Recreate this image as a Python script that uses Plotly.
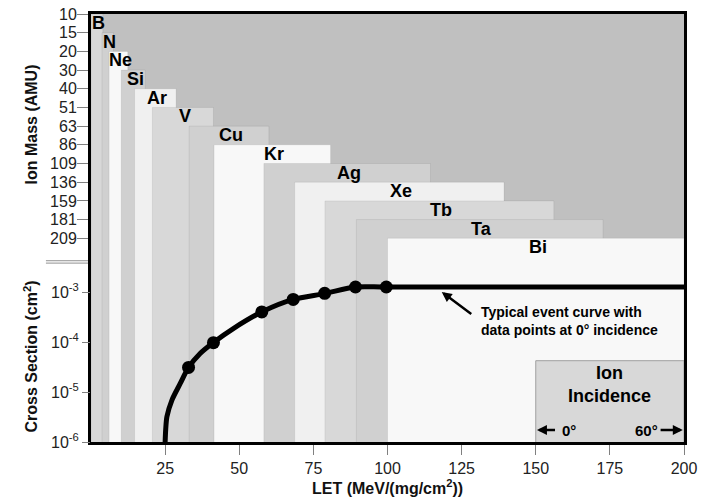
import math
import plotly.graph_objects as go

# ---------------- data ----------------
ion_names = ["B", "N", "Ne", "Si", "Ar", "V", "Cu", "Kr", "Ag", "Xe", "Tb", "Ta", "Bi"]
ion_mass = [10, 15, 20, 30, 40, 51, 63, 86, 109, 136, 159, 181, 209]
let_0deg = [0.0, 3.7, 6.1, 10.2, 14.7, 20.7, 33.1, 41.5, 58.3, 68.7, 78.9, 89.5, 100.0]
let_60deg = [4.0, 7.6, 12.4, 18.3, 28.7, 41.3, 60.0, 80.8, 114.5, 139.3, 156.1, 172.7, 200.0]

curve_let = [25.0, 25.2, 25.6, 27.3, 30.1, 32.9, 36.8, 41.3, 48.0, 57.9, 68.2, 78.8, 89.2, 99.6, 200.0]
curve_xs = [1.0e-6, 1.8e-6, 3.2e-6, 6.9e-6, 1.48e-5, 3.1e-5, 5.9e-5, 9.8e-5, 1.86e-4,
            4.07e-4, 7.1e-4, 9.3e-4, 1.26e-3, 1.26e-3, 1.26e-3]

point_let = [32.9, 41.3, 57.6, 68.2, 78.8, 89.2, 99.6]
point_xs = [3.1e-5, 9.7e-5, 4.0e-4, 7.1e-4, 9.4e-4, 1.26e-3, 1.26e-3]

let_ticks = [25, 50, 75, 100, 125, 150, 175, 200]
xs_ticks = [1e-6, 1e-5, 1e-4, 1e-3]
xs_ticktext = ["10<sup>-6</sup>", "10<sup>-5</sup>", "10<sup>-4</sup>", "10<sup>-3</sup>"]

# ---------------- style ----------------
ion_colors = ["#d8d8d8", "#d0d0d0", "#f8f8f8", "#d0d0d0", "#f0f0f0", "#d8d8d8", "#d0d0d0",
              "#f8f8f8", "#d0d0d0", "#f0f0f0", "#d8d8d8", "#d0d0d0", "#f8f8f8"]
FONT = "Arial, Liberation Sans, sans-serif"
MASS_BOTTOM = 22.9      # mass-index axis bottom (reversed axis)
LOG_TOP = 2.56          # log axis top (log10)
TICKCOL = "#808080"

fig = go.Figure()

# ion rectangles (drawn in order, heavier ions on top)
for i, (name, l0, l1, col) in enumerate(zip(ion_names, let_0deg, let_60deg, ion_colors)):
    fig.add_trace(go.Scatter(
        x=[l0, l1, l1, l0, l0],
        y=[i, i, MASS_BOTTOM + 1, MASS_BOTTOM + 1, i],
        mode="lines", fill="toself", fillcolor=col,
        line=dict(color="rgba(0,0,0,0.07)", width=1),
        hoverinfo="skip", showlegend=False, xaxis="x", yaxis="y"))

# event curve
fig.add_trace(go.Scatter(
    x=curve_let, y=curve_xs, mode="lines",
    line=dict(color="black", width=5, shape="spline", smoothing=0.8),
    showlegend=False, xaxis="x", yaxis="y2", hoverinfo="skip"))
fig.add_trace(go.Scatter(
    x=point_let, y=point_xs, mode="markers",
    marker=dict(color="black", size=13),
    showlegend=False, xaxis="x", yaxis="y2", hoverinfo="skip"))

annotations = []
# ion labels
for i, (name, l0, l1) in enumerate(zip(ion_names, let_0deg, let_60deg)):
    annotations.append(dict(
        x=(l0 + l1) / 2, y=i, xref="x", yref="y", text="<b>%s</b>" % name,
        showarrow=False, xanchor="center", yanchor="top", yshift=3, xshift=2,
        font=dict(family=FONT, size=18, color="black")))

# arrow + description
annotations.append(dict(
    x=118.3, y=-3.0, xref="x", yref="y2", text="", showarrow=True,
    ax=31, ay=23, arrowhead=2, arrowsize=0.8, arrowwidth=2.5, arrowcolor="black"))
annotations.append(dict(
    x=130.9, y=-3.2, xref="x", yref="y2",
    text="<b>Typical event curve with<br>data points at 0° incidence</b>",
    showarrow=False, xanchor="left", yanchor="top", align="left",
    font=dict(family=FONT, size=14, color="black")))

# Ion incidence box text
annotations.append(dict(
    x=175, y=19.8, xref="x", yref="y", text="<b>Ion<br>Incidence</b>",
    showarrow=False, xanchor="center", yanchor="middle", align="center",
    font=dict(family=FONT, size=18, color="black")))
annotations.append(dict(
    x=161.2, y=22.26, xref="x", yref="y", text="<b>0°</b>", showarrow=False,
    font=dict(family=FONT, size=15, color="black")))
annotations.append(dict(
    x=187.2, y=22.26, xref="x", yref="y", text="<b>60°</b>", showarrow=False,
    font=dict(family=FONT, size=15, color="black")))
annotations.append(dict(
    x=150.4, y=22.26, xref="x", yref="y", ax=157.0, ay=22.26, axref="x", ayref="y",
    text="", showarrow=True, arrowhead=2, arrowsize=0.8, arrowwidth=2.5, arrowcolor="black"))
annotations.append(dict(
    x=199.6, y=22.26, xref="x", yref="y", ax=191.6, ay=22.26, axref="x", ayref="y",
    text="", showarrow=True, arrowhead=2, arrowsize=0.8, arrowwidth=2.5, arrowcolor="black"))

# axis titles
annotations.append(dict(
    x=-0.101, y=0.742, xref="paper", yref="paper", text="<b>Ion Mass (AMU)</b>",
    textangle=-90, showarrow=False, xanchor="center", yanchor="middle",
    font=dict(family=FONT, size=16, color="#111")))
annotations.append(dict(
    x=-0.101, y=0.2, xref="paper", yref="paper", text="<b>Cross Section (cm<sup>2</sup>)</b>",
    textangle=-90, showarrow=False, xanchor="center", yanchor="middle",
    font=dict(family=FONT, size=16, color="#111")))
annotations.append(dict(
    x=0.5, y=-0.105, xref="paper", yref="paper", text="<b>LET (MeV/(mg/cm<sup>2</sup>))</b>",
    showarrow=False, xanchor="center", yanchor="middle",
    font=dict(family=FONT, size=16, color="#111")))

shapes = [
    # ion incidence box
    dict(type="rect", xref="x", yref="y", x0=150, x1=200, y0=18.55, y1=MASS_BOTTOM + 1,
         fillcolor="#d8d8d8", line=dict(color="#a0a0a0", width=1), layer="above"),
    # axis break marks
    dict(type="line", xref="paper", yref="paper", x0=-0.076, x1=-0.005, y0=0.4235, y1=0.4235,
         line=dict(color="#909090", width=1)),
    dict(type="line", xref="paper", yref="paper", x0=-0.076, x1=-0.005, y0=0.418, y1=0.418,
         line=dict(color="#909090", width=1)),
]

fig.update_layout(
    width=708, height=500,
    margin=dict(l=91, r=24, t=14, b=58, autoexpand=False),
    paper_bgcolor="white", plot_bgcolor="#c0c0c0",
    font=dict(family=FONT, size=16, color="#222"),
    showlegend=False,
    annotations=annotations, shapes=shapes,
    xaxis=dict(range=[0, 200], tickvals=let_ticks, ticks="outside", ticklen=10,
               tickcolor=TICKCOL, tickwidth=1, showgrid=False, zeroline=False,
               showline=True, linecolor="black", linewidth=3, mirror=True,
               tickfont=dict(family=FONT, size=16, color="#222")),
    yaxis=dict(range=[MASS_BOTTOM, 0], tickvals=list(range(len(ion_mass))),
               ticktext=[str(m) for m in ion_mass], ticks="outside", ticklen=11,
               ticklabelstandoff=-3,
               tickcolor=TICKCOL, tickwidth=1, showgrid=False, zeroline=False,
               showline=True, linecolor="black", linewidth=3, mirror=True,
               tickfont=dict(family=FONT, size=16, color="#222")),
    yaxis2=dict(type="log", range=[-6, LOG_TOP], overlaying="y", side="left",
                tickvals=xs_ticks, ticktext=xs_ticktext, ticks="outside", ticklen=8,
                tickcolor=TICKCOL, tickwidth=1, showgrid=False, zeroline=False,
                showline=False, tickfont=dict(family=FONT, size=16, color="#222")),
)

fig.write_html("out.html")
